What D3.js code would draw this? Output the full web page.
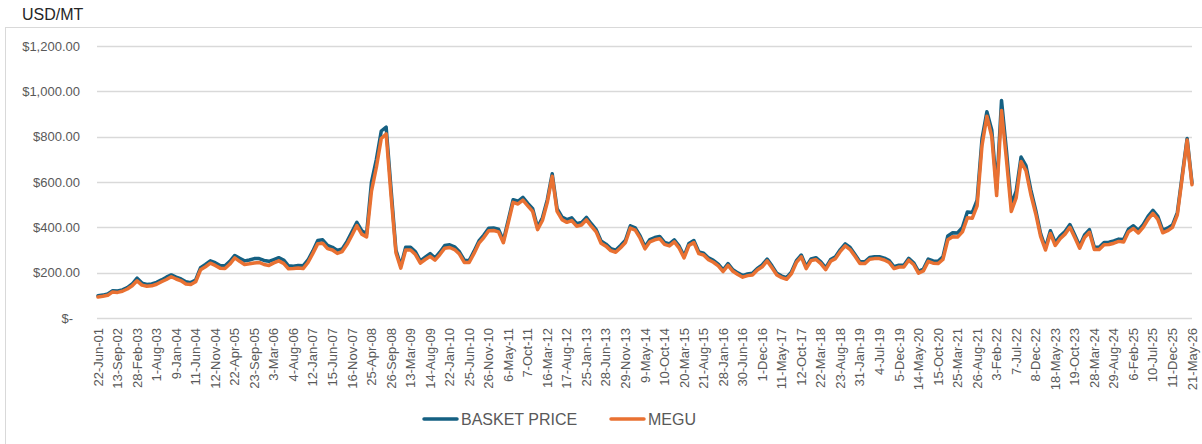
<!DOCTYPE html>
<html>
<head>
<meta charset="utf-8">
<script src="https://cdn.jsdelivr.net/npm/d3@7"></script>
<style>
  body { margin: 0; background: #fff; }
  svg { display: block; font-family: "Liberation Sans", Arial, sans-serif; }
</style>
</head>
<body>
<div id="chart"></div>
<script>
// category labels shown on the x axis (one every 4 data points)
const tickLabels = [
  '22-Jun-01', '13-Sep-02', '28-Feb-03', '1-Aug-03', '9-Jan-04', '11-Jun-04', '12-Nov-04',
  '22-Apr-05', '23-Sep-05', '3-Mar-06', '4-Aug-06', '12-Jan-07', '15-Jun-07', '16-Nov-07',
  '25-Apr-08', '26-Sep-08', '13-Mar-09', '14-Aug-09', '22-Jan-10', '25-Jun-10', '26-Nov-10',
  '6-May-11', '7-Oct-11', '16-Mar-12', '17-Aug-12', '25-Jan-13', '28-Jun-13', '29-Nov-13',
  '9-May-14', '10-Oct-14', '20-Mar-15', '21-Aug-15', '28-Jan-16', '30-Jun-16', '1-Dec-16',
  '11-May-17', '12-Oct-17', '22-Mar-18', '23-Aug-18', '31-Jan-19', '4-Jul-19', '5-Dec-19',
  '14-May-20', '15-Oct-20', '25-Mar-21', '26-Aug-21', '3-Feb-22', '7-Jul-22', '8-Dec-22',
  '18-May-23', '19-Oct-23', '28-Mar-24', '29-Aug-24', '6-Feb-25', '10-Jul-25', '11-Dec-25',
  '21-May-26'
];
const pointsPerLabel = 4;

// USD/MT
const basketPrice = [
  98, 101, 106, 120, 119, 124, 134, 150, 176, 154,
  148, 150, 157, 168, 180, 190, 180, 172, 160, 156,
  168, 222, 236, 252, 244, 232, 230, 250, 276, 264,
  252, 256, 262, 262, 254, 250, 258, 266, 256, 230,
  228, 232, 230, 256, 296, 342, 345, 320, 312, 298,
  305, 338, 380, 422, 385, 372, 600, 700, 825, 842,
  570, 300, 230, 312, 312, 292, 252, 268, 284, 265,
  290, 320, 323, 314, 292, 255, 253, 295, 340, 366,
  396, 397, 392, 342, 432, 522, 515, 532, 506, 482,
  400, 442, 522, 636, 482, 446, 434, 442, 416, 421,
  444, 416, 390, 340, 326, 306, 299, 320, 343, 407,
  398, 362, 314, 346, 355, 360, 334, 327, 345, 317,
  273, 329, 342, 292, 286, 265, 254, 238, 212, 240,
  213, 199, 187, 194, 197, 219, 234, 260, 230, 197,
  185, 178, 204, 253, 278, 226, 261, 266, 248, 221,
  258, 270, 302, 327, 311, 280, 248, 248, 267, 270,
  270, 264, 253, 226, 233, 233, 263, 244, 206, 216,
  260, 252, 250, 270, 362, 376, 375, 400, 468, 465,
  520, 790, 910, 830, 570, 960, 740, 500, 560, 710,
  672, 565, 476, 372, 310, 385, 332, 362, 382, 412,
  366, 318, 366, 390, 312, 312, 333, 334, 340, 348,
  346, 392, 407, 387, 412, 448, 475, 448, 388, 396,
  410, 465, 630, 792, 596
];

const megu = [
  93, 96, 100, 115, 113, 118, 128, 142, 164, 145,
  140, 142, 149, 160, 170, 182, 172, 164, 150, 148,
  160, 213, 226, 242, 232, 220, 218, 238, 265, 250,
  236, 239, 243, 245, 236, 232, 243, 252, 241, 217,
  218, 221, 218, 245, 285, 328, 330, 306, 300, 285,
  293, 325, 365, 408, 370, 358, 560, 665, 792, 812,
  540, 288, 220, 300, 300, 280, 242, 258, 272, 255,
  280, 308, 311, 302, 282, 245, 245, 285, 330, 355,
  385, 386, 380, 332, 420, 510, 503, 520, 495, 470,
  390, 430, 510, 625, 470, 434, 422, 430, 405, 410,
  433, 405, 380, 330, 317, 297, 290, 310, 333, 397,
  388, 352, 305, 336, 345, 350, 325, 318, 336, 308,
  265, 320, 333, 284, 278, 257, 246, 230, 205, 232,
  206, 192, 180, 187, 190, 212, 226, 252, 222, 190,
  178, 171, 196, 245, 270, 218, 253, 258, 240, 213,
  250, 262, 294, 318, 302, 272, 240, 240, 259, 262,
  262, 256, 245, 218, 225, 225, 255, 236, 198, 208,
  250, 242, 240, 258, 345, 358, 357, 380, 442, 440,
  495, 760, 890, 800, 540, 915, 700, 470, 530, 690,
  650, 545, 460, 360, 300, 373, 320, 350, 370, 400,
  355, 308, 355, 378, 302, 302, 323, 324, 330, 338,
  335, 380, 395, 375, 400, 435, 462, 435, 376, 385,
  400, 455, 620, 785, 588
];

const yTicks = [0, 200, 400, 600, 800, 1000, 1200];

const width = 1202;
const height = 444;
const margin = {top: 46, right: 10, bottom: 126, left: 98};

const svg = d3.select('#chart')
              .append('svg')
              .attr('width', width)
              .attr('height', height);

// light chart frame (only top and left edges fall inside the picture)
svg.append('rect')
   .attr('x', 5.5)
   .attr('y', 27.5)
   .attr('width', 1210)
   .attr('height', 440)
   .attr('fill', 'none')
   .attr('stroke', '#d9d9d9');

svg.append('text')
   .attr('x', 22)
   .attr('y', 20)
   .attr('font-size', 16)
   .attr('fill', '#262626')
   .text('USD/MT');

const xScale = d3.scaleLinear()
                 .domain([0, basketPrice.length - 1])
                 .range([margin.left, width - margin.right]);

const yScale = d3.scaleLinear()
                 .domain([0, 1200])
                 .range([height - margin.bottom, margin.top]);

// gridlines
svg.append('g')
   .selectAll('line')
   .data(yTicks)
   .join('line')
   .attr('x1', margin.left - 1)
   .attr('x2', width - margin.right)
   .attr('y1', d => Math.round(yScale(d)) + 0.5)
   .attr('y2', d => Math.round(yScale(d)) + 0.5)
   .attr('stroke', '#d9d9d9')
   .attr('stroke-width', 1.3);

// y axis labels
const moneyFormat = v => v === 0 ? '$-' : '$' + d3.format(',.2f')(v);
svg.append('g')
   .selectAll('text')
   .data(yTicks)
   .join('text')
   .attr('x', d => d === 0 ? 73 : 80)
   .attr('y', d => yScale(d))
   .attr('dy', '0.35em')
   .attr('text-anchor', 'end')
   .attr('font-size', 13)
   .attr('fill', '#595959')
   .text(moneyFormat);

// x axis labels, rotated
svg.append('g')
   .selectAll('text')
   .data(tickLabels)
   .join('text')
   .attr('transform', (d, i) =>
     `translate(${xScale(i * pointsPerLabel)}, ${height - margin.bottom + 10}) rotate(-90)`)
   .attr('dy', '0.35em')
   .attr('text-anchor', 'end')
   .attr('font-size', 13)
   .attr('fill', '#595959')
   .text(d => d);

const line = d3.line()
               .x((d, i) => xScale(i))
               .y(d => yScale(d));

const series = [
  {name: 'BASKET PRICE', values: basketPrice, color: '#156082'},
  {name: 'MEGU', values: megu, color: '#E97132'}
];

svg.append('g')
   .selectAll('path')
   .data(series)
   .join('path')
   .attr('d', d => line(d.values))
   .attr('fill', 'none')
   .attr('stroke', d => d.color)
   .attr('stroke-width', 3.5)
   .attr('stroke-linejoin', 'round')
   .attr('stroke-linecap', 'round');

// legend
const legendX = [424, 611];
const legend = svg.append('g')
                  .selectAll('g')
                  .data(series)
                  .join('g')
                  .attr('transform', (d, i) => `translate(${legendX[i]}, 419)`);

legend.append('line')
      .attr('x1', 0)
      .attr('x2', 33)
      .attr('stroke', d => d.color)
      .attr('stroke-width', 3.5)
      .attr('stroke-linecap', 'round');

legend.append('text')
      .attr('x', 37)
      .attr('dy', '0.35em')
      .attr('font-size', 16)
      .attr('fill', '#595959')
      .text(d => d.name);
</script>
</body>
</html>
